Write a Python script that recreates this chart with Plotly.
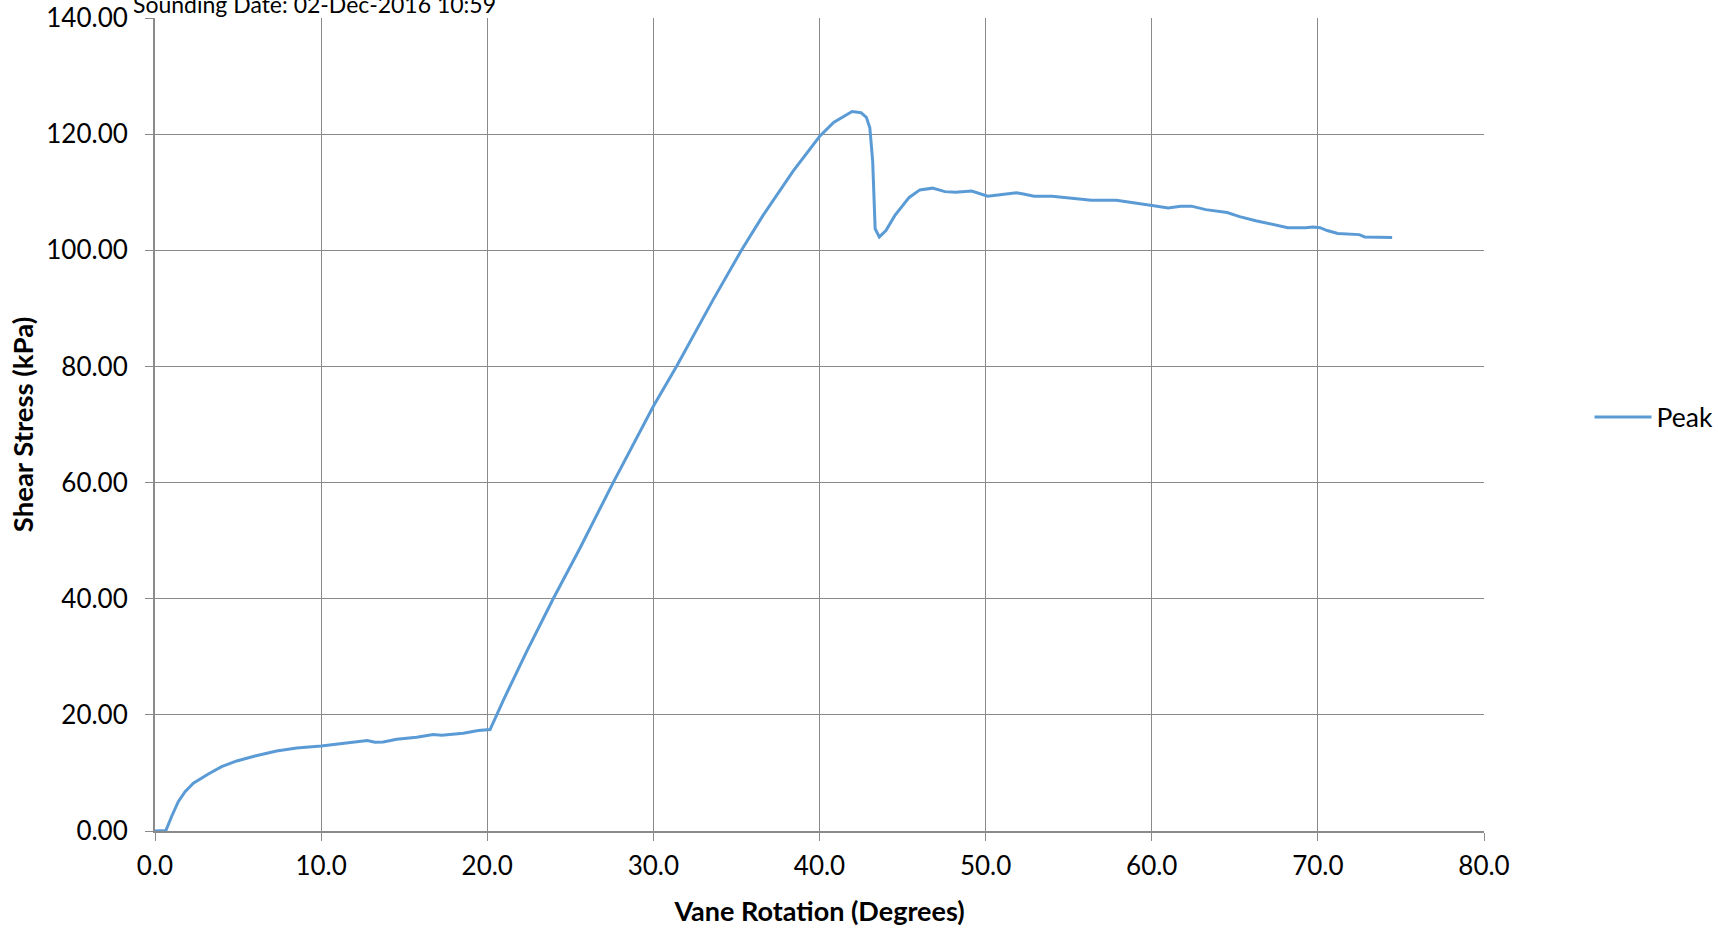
import plotly.graph_objects as go

# Vane shear test record: rotation (degrees) vs shear stress (kPa)
rotation_deg = [
    0.0, 0.2, 0.66, 1.0, 1.4, 1.81, 2.31, 3.21, 4.01, 4.92, 6.02, 7.32, 8.53,
    10.0, 11.54, 12.78, 13.24, 13.74, 14.55, 15.75, 16.75, 17.26, 18.56,
    19.46, 20.17, 21.0, 22.37, 23.97, 25.58, 27.58, 29.99, 31.39, 33.6,
    35.3, 36.6, 38.4, 40.0, 40.85, 41.96, 42.5, 42.82, 43.03, 43.2, 43.35,
    43.6, 44.0, 44.54, 45.4, 46.04, 46.8, 47.55, 48.19, 49.16, 50.13,
    50.99, 51.85, 52.28, 52.92, 54.0, 55.08, 56.37, 57.87, 58.73, 60.02,
    60.99, 61.74, 62.39, 63.25, 64.54, 65.29, 66.26, 67.12, 68.19, 69.27,
    69.7, 70.13, 70.56, 71.2, 72.49, 72.82, 73.74, 74.47,
]
shear_kpa = [
    0.0, 0.0, 0.1, 2.5, 5.05, 6.78, 8.22, 9.82, 11.08, 12.06, 12.92, 13.79,
    14.3, 14.65, 15.11, 15.57, 15.28, 15.34, 15.8, 16.14, 16.6, 16.5, 16.83,
    17.29, 17.46, 22.7, 30.9, 40.0, 48.7, 60.0, 73.1, 80.0, 91.5, 100.0,
    106.0, 113.6, 119.6, 122.0, 123.9, 123.7, 122.9, 121.1, 115.4, 103.7,
    102.3, 103.4, 106.0, 109.1, 110.4, 110.7, 110.1, 110.0, 110.2, 109.3,
    109.6, 109.9, 109.7, 109.3, 109.3, 109.0, 108.6, 108.6, 108.2, 107.7,
    107.3, 107.6, 107.6, 107.0, 106.5, 105.8, 105.1, 104.6, 103.9, 103.9,
    104.0, 103.9, 103.4, 102.9, 102.7, 102.3, 102.3, 102.2,
]

x_ticks = [0, 10, 20, 30, 40, 50, 60, 70, 80]
y_ticks = [0, 20, 40, 60, 80, 100, 120, 140]

FONT = "Lato, 'Open Sans', sans-serif"
GRID = "#8a8a8a"

fig = go.Figure()
fig.add_trace(go.Scatter(
    x=rotation_deg, y=shear_kpa, mode="lines", name="Peak",
    line=dict(color="#5b9bd5", width=3),
))

axis_common = dict(
    showgrid=True, gridcolor=GRID, gridwidth=1.3,
    showline=True, linecolor=GRID, linewidth=2,
    ticks="outside", ticklen=8, tickcolor=GRID, tickwidth=1.3,
    zeroline=False, automargin=False,
    tickfont=dict(family=FONT, size=26, color="#000000"),
)

fig.update_layout(
    width=1718, height=931,
    margin=dict(l=155, r=234, t=18, b=100, autoexpand=False),
    paper_bgcolor="white", plot_bgcolor="white",
    font=dict(family=FONT, color="#000000"),
    xaxis=dict(
        range=[0, 80], tickvals=x_ticks, tickformat=".1f",
        ticklabelstandoff=3,
        title=dict(text="<b>Vane Rotation (Degrees)</b>",
                   font=dict(family=FONT, size=27), standoff=22),
        **axis_common,
    ),
    yaxis=dict(
        range=[0, 140], tickvals=y_ticks, tickformat=".2f",
        ticklabelstandoff=12,
        title=dict(text="<b>Shear Stress (kPa)</b>",
                   font=dict(family=FONT, size=27.5), standoff=5),
        **axis_common,
    ),
    showlegend=True,
    legend=dict(
        x=1.0794, y=0.509, xanchor="left", yanchor="middle",
        font=dict(family=FONT, size=26.5), itemwidth=57,
        bgcolor="rgba(0,0,0,0)",
    ),
    annotations=[dict(
        text="Sounding Date: 02-Dec-2016 10:59",
        xref="paper", yref="paper", x=-0.0184, y=0.9975,
        xanchor="left", yanchor="bottom", showarrow=False,
        font=dict(family=FONT, size=23),
    )],
)

fig.write_html("out.html")
